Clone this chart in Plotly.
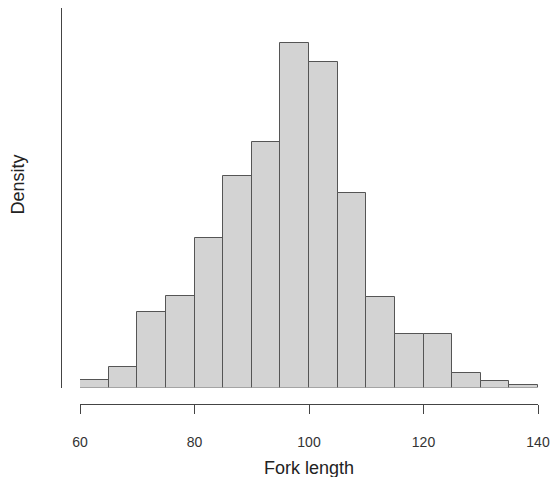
import plotly.graph_objects as go

# Histogram of fork lengths (density scale), bins of width 5 from 60 to 140
bin_starts = [60, 65, 70, 75, 80, 85, 90, 95, 100, 105, 110, 115, 120, 125, 130, 135]
density = [0.00074, 0.00211, 0.0080, 0.00964, 0.01576, 0.02234, 0.02588, 0.03631,
           0.03431, 0.0205, 0.00959, 0.00564, 0.00564, 0.00148, 0.00069, 0.00026]
bin_width = 5
x_ticks = [60, 80, 100, 120, 140]

W, H = 551, 477
FONT = "Liberation Sans, Arial, Helvetica, sans-serif"
LINE = "#444444"

centers = [s + bin_width / 2 for s in bin_starts]

fig = go.Figure(
    go.Bar(
        x=centers,
        y=density,
        width=[bin_width] * len(bin_starts),
        marker=dict(color="#d3d3d3", line=dict(color="#555555", width=1)),
        hoverinfo="skip",
    )
)

fig.update_layout(
    width=W,
    height=H,
    margin=dict(l=0, r=0, t=0, b=0, pad=0, autoexpand=False),
    paper_bgcolor="white",
    plot_bgcolor="white",
    showlegend=False,
    bargap=0,
    font=dict(family=FONT, color="#333333"),
    xaxis=dict(
        domain=[80 / W, 538 / W],
        range=[60, 140],
        anchor="free",
        position=1 - 404 / H,
        automargin=False,
        showgrid=False,
        zeroline=False,
        showline=True,
        linecolor=LINE,
        linewidth=1,
        ticks="outside",
        ticklen=9,
        tickcolor=LINE,
        tickvals=x_ticks,
        ticktext=[str(v) for v in x_ticks],
        tickfont=dict(size=14, family=FONT, color="#333333"),
        ticklabelstandoff=16,
    ),
    yaxis=dict(
        domain=[1 - 387.5 / H, 1 - 8 / H],
        range=[0, 0.04],
        anchor="free",
        position=61 / W,
        automargin=False,
        showgrid=False,
        zeroline=False,
        showline=True,
        linecolor=LINE,
        linewidth=1,
        ticks="",
        showticklabels=False,
    ),
    annotations=[
        dict(text="Fork length", xref="paper", yref="paper",
             x=308.5 / W, y=1 - 468 / H, xanchor="center", yanchor="middle",
             showarrow=False, font=dict(size=18, family=FONT, color="#222222")),
        dict(text="Density", xref="paper", yref="paper",
             x=17.5 / W, y=1 - 185 / H, xanchor="center", yanchor="middle",
             textangle=-90, showarrow=False,
             font=dict(size=18, family=FONT, color="#222222")),
    ],
)

fig.write_html("out.html")
